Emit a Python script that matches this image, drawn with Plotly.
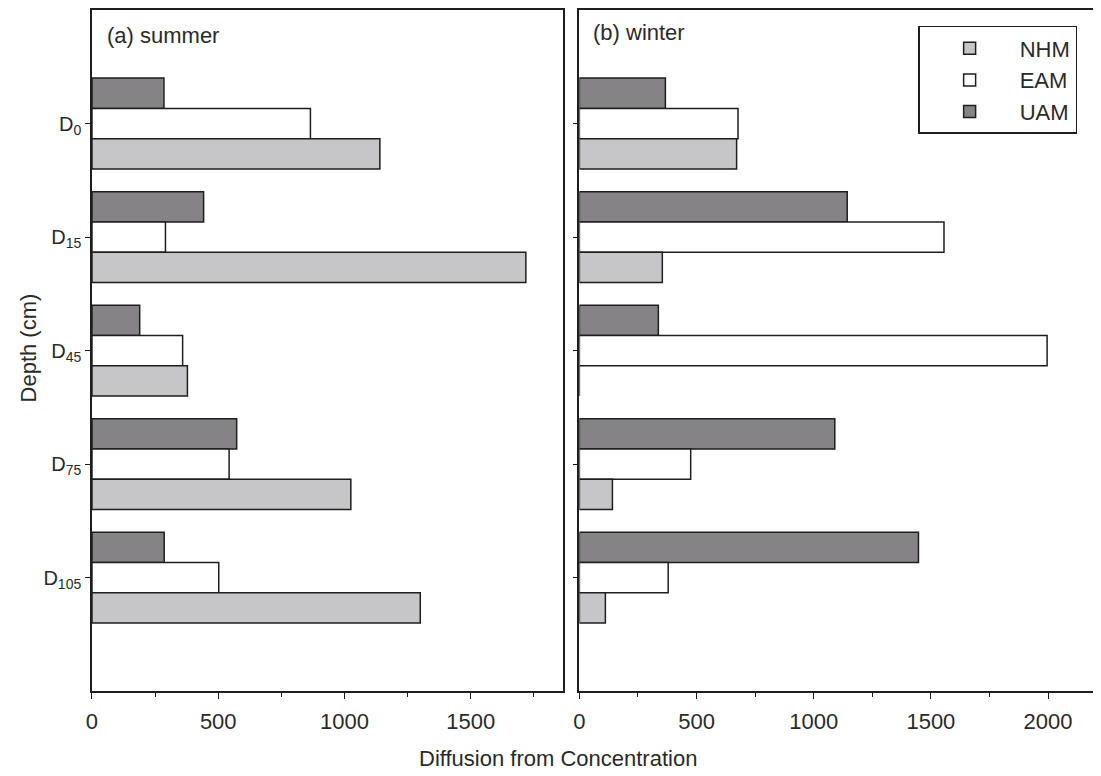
import plotly.graph_objects as go

# ---- data ----
depths = ["D<sub>0</sub>", "D<sub>15</sub>", "D<sub>45</sub>", "D<sub>75</sub>", "D<sub>105</sub>"]
series = ["UAM", "EAM", "NHM"]

summer_UAM = [285, 442, 189, 573, 286]
summer_EAM = [865, 291, 359, 543, 502]
summer_NHM = [1140, 1718, 378, 1025, 1300]

winter_UAM = [367, 1143, 337, 1090, 1447]
winter_EAM = [677, 1556, 1996, 475, 379]
winter_NHM = [671, 354, 0, 141, 111]

colors = {"UAM": "#858386", "EAM": "#ffffff", "NHM": "#c6c5c8"}

# page body has an 8px margin: the figure is sized to fill the rest of the window
OFF = 8
W, H = 1101 - OFF, 776 - OFF


def px(x):
    return (x - OFF) / W


def py(y):
    return 1 - (y - OFF) / H


FONT = "Arial, Liberation Sans, sans-serif"
TXT = "#2a2a2a"
LINE = "#1e1e1e"

fig = go.Figure()

summer = {"UAM": summer_UAM, "EAM": summer_EAM, "NHM": summer_NHM}
winter = {"UAM": winter_UAM, "EAM": winter_EAM, "NHM": winter_NHM}

for name in series:
    fig.add_trace(go.Bar(
        x=summer[name], y=depths, orientation="h", name=name,
        marker=dict(color=colors[name], line=dict(color=LINE, width=1.5)),
        xaxis="x", yaxis="y", showlegend=False, legendgroup=name,
    ))
for name in series:
    fig.add_trace(go.Bar(
        x=winter[name], y=depths, orientation="h", name=name,
        marker=dict(color=colors[name], line=dict(color=LINE, width=1.5)),
        xaxis="x2", yaxis="y2", showlegend=True, legendgroup=name,
    ))

ydom = [py(691), py(9)]
axcommon = dict(
    showgrid=False, zeroline=False, showline=True, linecolor=LINE, linewidth=1.5,
    ticks="outside", ticklen=6, tickcolor=LINE, tickwidth=1,
    tickfont=dict(family=FONT, size=22, color=TXT),
)

fig.update_layout(
    width=W, height=H,
    margin=dict(l=0, r=0, t=0, b=0),
    paper_bgcolor="white", plot_bgcolor="white",
    barmode="group", bargap=0.2, bargroupgap=0,
    font=dict(family=FONT, size=22, color=TXT),
    xaxis=dict(domain=[px(86.4), px(560)], range=[0, 1865], dtick=500, tick0=0,
               mirror=True, ticklabelstandoff=4,
               minor=dict(dtick=250, ticklen=4, ticks="outside", tickcolor=LINE),
               anchor="y", **axcommon),
    xaxis2=dict(domain=[px(576.5), 1.0], range=[0, 2226], dtick=500, tick0=0,
                mirror=True, ticklabelstandoff=4,
                minor=dict(dtick=250, ticklen=4, ticks="outside", tickcolor=LINE),
                anchor="y2", **axcommon),
    yaxis=dict(domain=ydom, type="category", range=[5, -1], mirror=True,
               anchor="x", **{**axcommon, "ticklen": 5,
                              "tickfont": dict(family=FONT, size=20, color=TXT)}),
    yaxis2=dict(domain=ydom, type="category", range=[5, -1], mirror=False,
                showticklabels=False, anchor="x2", **{**axcommon, "ticklen": 5}),
    legend=dict(
        x=px(1077), xanchor="right", y=py(25), yanchor="top",
        bgcolor="white", bordercolor=LINE, borderwidth=1.5,
        traceorder="reversed", itemwidth=90,
        font=dict(family=FONT, size=22, color=TXT),
    ),
    annotations=[
        dict(text="(a) summer", x=px(100), y=py(35), xref="paper", yref="paper",
             xanchor="left", yanchor="middle", showarrow=False,
             font=dict(family=FONT, size=22, color=TXT)),
        dict(text="(b) winter", x=px(588), y=py(32), xref="paper", yref="paper",
             xanchor="left", yanchor="middle", showarrow=False,
             font=dict(family=FONT, size=22, color=TXT)),
        dict(text="Diffusion from Concentration", x=px(555), y=py(758),
             xref="paper", yref="paper", xanchor="center", yanchor="middle",
             showarrow=False, font=dict(family=FONT, size=22, color=TXT)),
        dict(text="Depth (cm)", x=px(23), y=py(347), xref="paper", yref="paper",
             xanchor="center", yanchor="middle", textangle=-90, showarrow=False,
             font=dict(family=FONT, size=22, color=TXT)),
    ],
)

fig.write_html("out.html")
